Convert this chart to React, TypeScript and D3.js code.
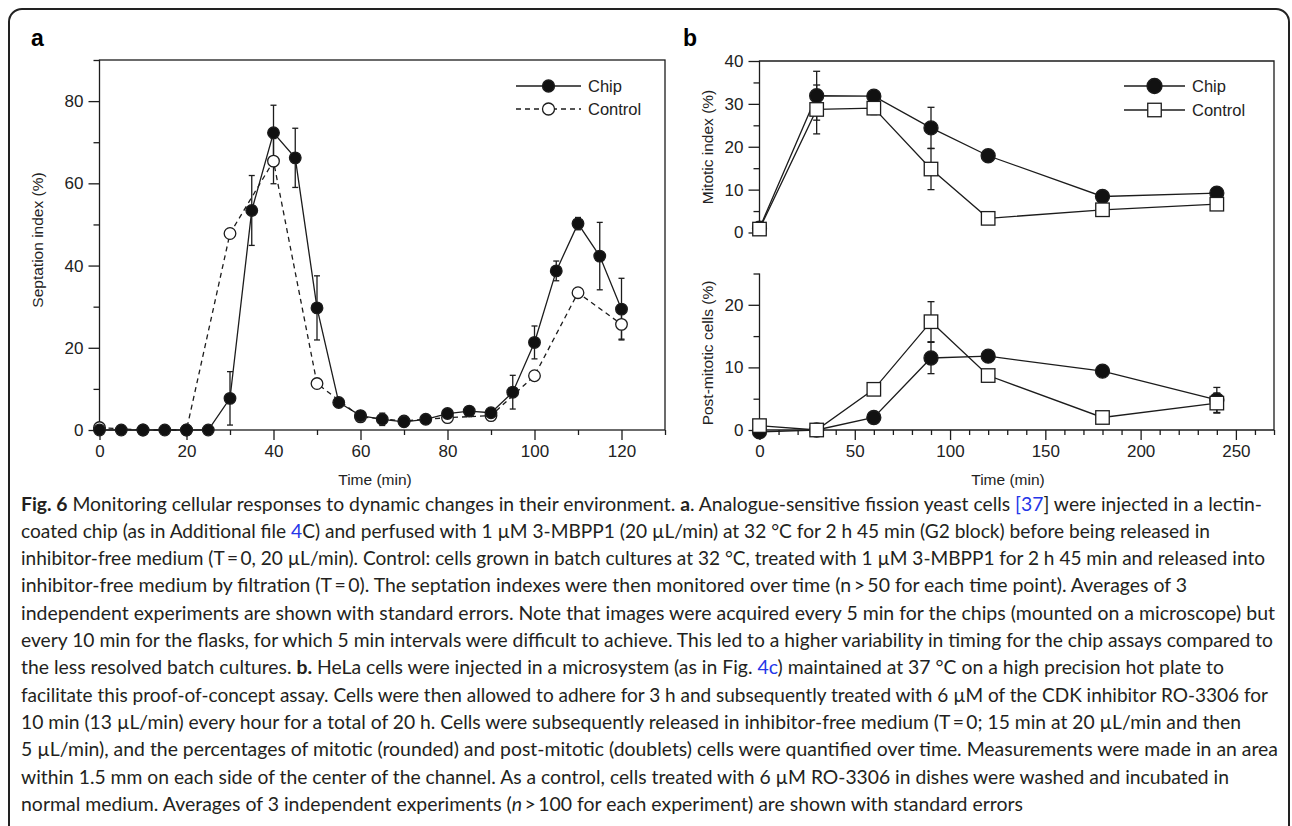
import React, { useEffect, useRef } from 'react';
import * as d3 from 'd3';

// ---- panel a : septation index (%) ----
const chipTimeA = [0, 5, 10, 15, 20, 25, 30, 35, 40, 45, 50, 55, 60, 65, 70, 75, 80, 85, 90, 95, 100, 105, 110, 115, 120];
const chipSeptation = [0, 0, 0, 0, 0, 0, 7.7, 53.4, 72.3, 66.2, 29.7, 6.7, 3.5, 2.6, 2.0, 2.6, 4.0, 4.6, 4.2, 9.2, 21.3, 38.7, 50.2, 42.3, 29.4];
const chipSeptationErr = [0, 0, 0, 0, 0, 0, 6.5, 8.5, 6.7, 7.2, 7.8, 0.8, 1.2, 1.5, 0.6, 0.6, 0.8, 0.6, 0.8, 4.1, 4.0, 2.4, 1.5, 8.2, 7.5];
const controlTimeA = [0, 10, 20, 30, 40, 50, 60, 70, 80, 90, 100, 110, 120];
const controlSeptation = [0.6, 0, 0, 47.8, 65.4, 11.3, 3.2, 2.2, 3.0, 3.5, 13.2, 33.4, 25.7];
const controlSeptationErr = [0, 0, 0, 0, 5.5, 0, 0, 0, 0, 0, 0, 0, 3.6];
const ticksA_x = [0, 20, 40, 60, 80, 100, 120];
const ticksA_y = [0, 20, 40, 60, 80];

// ---- panel b : HeLa mitotic / post-mitotic ----
const timeB = [0, 30, 60, 90, 120, 180, 240];
const chipMitotic = [1.0, 31.9, 31.8, 24.4, 17.9, 8.4, 9.2];
const chipMitoticErr = [0, 5.7, 0.8, 4.8, 0.8, 0.5, 0.6];
const controlMitotic = [0.8, 28.7, 29.0, 14.8, 3.3, 5.3, 6.6];
const controlMitoticErr = [0, 5.7, 1.5, 4.8, 0, 0, 0];
const chipPost = [-0.3, 0, 2.0, 11.5, 11.8, 9.4, 4.8];
const chipPostErr = [0, 0, 0, 2.5, 0, 0, 2.0];
const controlPost = [0.7, 0, 6.5, 17.3, 8.7, 2.0, 4.3];
const controlPostErr = [0, 0, 0, 3.2, 0, 0, 1.6];
const ticksB_x = [0, 50, 100, 150, 200, 250];
const ticksB_mit = [0, 10, 20, 30, 40];
const ticksB_post = [0, 10, 20];

// caption, **bold**, [[link]], _italic_
const captionLines = [
  '**Fig. 6** Monitoring cellular responses to dynamic changes in their environment. **a**. Analogue-sensitive fission yeast cells [[[37]]] were injected in a lectin-',
  'coated chip (as in Additional file [[4]]C) and perfused with 1 µM 3-MBPP1 (20 µL/min) at 32 °C for 2 h 45 min (G2 block) before being released in',
  'inhibitor-free medium (T\u2009=\u20090, 20 µL/min). Control: cells grown in batch cultures at 32 °C, treated with 1 µM 3-MBPP1 for 2 h 45 min and released into',
  'inhibitor-free medium by filtration (T\u2009=\u20090). The septation indexes were then monitored over time (n\u2009>\u200950 for each time point). Averages of 3',
  'independent experiments are shown with standard errors. Note that images were acquired every 5 min for the chips (mounted on a microscope) but',
  'every 10 min for the flasks, for which 5 min intervals were difficult to achieve. This led to a higher variability in timing for the chip assays compared to',
  'the less resolved batch cultures. **b.** HeLa cells were injected in a microsystem (as in Fig. [[4c]]) maintained at 37 °C on a high precision hot plate to',
  'facilitate this proof-of-concept assay. Cells were then allowed to adhere for 3 h and subsequently treated with 6 µM of the CDK inhibitor RO-3306 for',
  '10 min (13 µL/min) every hour for a total of 20 h. Cells were subsequently released in inhibitor-free medium (T\u2009=\u20090; 15 min at 20 µL/min and then',
  '5 µL/min), and the percentages of mitotic (rounded) and post-mitotic (doublets) cells were quantified over time. Measurements were made in an area',
  'within 1.5 mm on each side of the center of the channel. As a control, cells treated with 6 µM RO-3306 in dishes were washed and incubated in',
  'normal medium. Averages of 3 independent experiments (_n_\u2009>\u2009100 for each experiment) are shown with standard errors',
];
const captionEnds = [1262, 1210, 1265, 1187, 1275, 1273, 1224, 1268, 1241, 1278, 1229, 1023];

const ink = '#1c1c1c';
const axisFont = '"Liberation Sans", Arial, Helvetica, sans-serif';

function drawXAxis(g, x, y0, majors, minors) {
  const major = g.append('g').attr('transform', `translate(0,${y0})`)
    .call(d3.axisBottom(x).tickValues(majors).tickSize(10).tickPadding(5).tickSizeOuter(0));
  const minor = g.append('g').attr('transform', `translate(0,${y0})`)
    .call(d3.axisBottom(x).tickValues(minors).tickSize(5).tickFormat(() => '').tickSizeOuter(0));
  [major, minor].forEach(a => {
    a.select('.domain').remove();
    a.selectAll('line').attr('stroke', ink).attr('stroke-width', 1.3);
  });
  major.selectAll('text').attr('fill', '#222').style('font-family', axisFont).style('font-size', '17px');
}

function drawYAxis(g, x0, y, majors, minors) {
  const major = g.append('g').attr('transform', `translate(${x0},0)`)
    .call(d3.axisLeft(y).tickValues(majors).tickSize(11).tickPadding(5).tickSizeOuter(0));
  const minor = g.append('g').attr('transform', `translate(${x0},0)`)
    .call(d3.axisLeft(y).tickValues(minors).tickSize(6).tickFormat(() => '').tickSizeOuter(0));
  [major, minor].forEach(a => {
    a.select('.domain').remove();
    a.selectAll('line').attr('stroke', ink).attr('stroke-width', 1.3);
  });
  major.selectAll('text').attr('fill', '#222').style('font-family', axisFont).style('font-size', '17px');
}

function drawSeries(g, x, y, xs, ys, errs, opts) {
  const pts = xs.map((t, i) => ({ t, v: ys[i], e: errs[i] }));
  const line = d3.line().x(d => x(d.t)).y(d => y(d.v));
  g.append('path').datum(pts).attr('d', line).attr('fill', 'none')
    .attr('stroke', ink).attr('stroke-width', 1.3)
    .attr('stroke-dasharray', opts.dash || null);
  const eb = g.append('g');
  pts.filter(d => d.e > 0).forEach(d => {
    const cx = x(d.t), y1 = y(d.v + d.e), y2 = y(d.v - d.e);
    eb.append('line').attr('x1', cx).attr('x2', cx).attr('y1', y1).attr('y2', y2).attr('stroke', ink).attr('stroke-width', 1.3);
    [y1, y2].forEach(yy => eb.append('line').attr('x1', cx - opts.cap).attr('x2', cx + opts.cap)
      .attr('y1', yy).attr('y2', yy).attr('stroke', ink).attr('stroke-width', 1.3));
  });
  return pts;
}

function drawMarkers(g, x, y, pts, opts) {
  pts.forEach(d => drawMarker(g, x(d.t), y(d.v), opts));
}

function drawMarker(g, cx, cy, opts) {
  if (opts.shape === 'square') {
    g.append('rect').attr('x', cx - opts.size / 2).attr('y', cy - opts.size / 2)
      .attr('width', opts.size).attr('height', opts.size)
      .attr('fill', '#fff').attr('stroke', ink).attr('stroke-width', 1.3);
  } else {
    g.append('circle').attr('cx', cx).attr('cy', cy).attr('r', opts.r)
      .attr('fill', opts.filled ? '#111' : '#fff').attr('stroke', ink).attr('stroke-width', 1.3);
  }
}

function legendRow(g, x1, x2, y0, label, marker, dash) {
  g.append('line').attr('x1', x1).attr('x2', x2).attr('y1', y0).attr('y2', y0)
    .attr('stroke', ink).attr('stroke-width', 1.3).attr('stroke-dasharray', dash || null);
  drawMarker(g, (x1 + x2) / 2, y0, marker);
  g.append('text').attr('x', x2 + 7).attr('y', y0 + 6).text(label)
    .style('font-family', axisFont).style('font-size', '16.5px').attr('fill', '#222');
}

export default function App() {
  const ref = useRef(null);

  useEffect(() => {
    const svg = d3.select(ref.current);
    svg.selectAll('*').remove();

    // outer figure frame
    svg.append('rect').attr('x', 9).attr('y', 9).attr('width', 1280).attr('height', 840).attr('rx', 13)
      .attr('fill', 'none').attr('stroke', '#222').attr('stroke-width', 2);

    // ---------- panel a ----------
    const ga = svg.append('g');
    const xA = d3.scaleLinear().domain([0, 130]).range([99.5, 665]);
    const yA = d3.scaleLinear().domain([0, 90]).range([430, 60]);
    ga.append('text').attr('x', 31).attr('y', 46).text('a')
      .style('font-family', axisFont).style('font-size', '23px').style('font-weight', 'bold');
    ga.append('rect').attr('x', xA(0)).attr('y', yA(90)).attr('width', xA(130) - xA(0)).attr('height', yA(0) - yA(90))
      .attr('fill', 'none').attr('stroke', ink).attr('stroke-width', 1.3);
    drawXAxis(ga, xA, yA(0), ticksA_x, [10, 30, 50, 70, 90, 110, 130]);
    drawYAxis(ga, xA(0), yA, ticksA_y, [10, 30, 50, 70, 90]);
    ga.append('text').attr('transform', `translate(43,${240}) rotate(-90)`).attr('text-anchor', 'middle')
      .text('Septation index (%)').style('font-family', axisFont).style('font-size', '15.5px').attr('fill', '#222');
    ga.append('text').attr('x', 375).attr('y', 485).attr('text-anchor', 'middle')
      .text('Time (min)').style('font-family', axisFont).style('font-size', '15.5px').attr('fill', '#222');

    const ctrlA = drawSeries(ga, xA, yA, controlTimeA, controlSeptation, controlSeptationErr, { dash: '5,4', cap: 3 });
    const chipA = drawSeries(ga, xA, yA, chipTimeA, chipSeptation, chipSeptationErr, { cap: 3 });
    drawMarkers(ga, xA, yA, ctrlA, { r: 5.8, filled: false });
    drawMarkers(ga, xA, yA, chipA, { r: 5.8, filled: true });
    legendRow(ga, 516, 581, 86, 'Chip', { r: 6, filled: true });
    legendRow(ga, 516, 581, 109, 'Control', { r: 6, filled: false }, '5,4');

    // ---------- panel b ----------
    const gb = svg.append('g');
    const xB = d3.scaleLinear().domain([0, 270]).range([759.5, 1274]);
    const yMit = d3.scaleLinear().domain([0, 40]).range([232.5, 61]);
    const yPost = d3.scaleLinear().domain([0, 25]).range([430, 273.5]);
    gb.append('text').attr('x', 683).attr('y', 46).text('b')
      .style('font-family', axisFont).style('font-size', '23px').style('font-weight', 'bold');
    const frame = d3.path();
    frame.moveTo(xB(0), yMit(0)); frame.lineTo(xB(0), yMit(40)); frame.lineTo(xB(270), yMit(40));
    frame.lineTo(xB(270), yPost(0)); frame.lineTo(xB(0), yPost(0)); frame.lineTo(xB(0), yPost(25));
    gb.append('path').attr('d', frame.toString()).attr('fill', 'none').attr('stroke', ink).attr('stroke-width', 1.3);
    drawXAxis(gb, xB, yPost(0), ticksB_x, [10, 20, 30, 40, 60, 70, 80, 90, 110, 120, 130, 140, 160, 170, 180, 190, 210, 220, 230, 240, 260, 270]);
    drawYAxis(gb, xB(0), yMit, ticksB_mit, [5, 15, 25, 35]);
    drawYAxis(gb, xB(0), yPost, ticksB_post, [5, 15, 25]);
    gb.append('text').attr('transform', `translate(713,${147}) rotate(-90)`).attr('text-anchor', 'middle')
      .text('Mitotic index (%)').style('font-family', axisFont).style('font-size', '15.5px').attr('fill', '#222');
    gb.append('text').attr('transform', `translate(713,${353}) rotate(-90)`).attr('text-anchor', 'middle')
      .text('Post-mitotic cells (%)').style('font-family', axisFont).style('font-size', '15.5px').attr('fill', '#222');
    gb.append('text').attr('x', 1008).attr('y', 485).attr('text-anchor', 'middle')
      .text('Time (min)').style('font-family', axisFont).style('font-size', '15.5px').attr('fill', '#222');

    const chipM = drawSeries(gb, xB, yMit, timeB, chipMitotic, chipMitoticErr, { cap: 3.5 });
    const ctrlM = drawSeries(gb, xB, yMit, timeB, controlMitotic, controlMitoticErr, { cap: 3.5 });
    drawMarkers(gb, xB, yMit, chipM, { r: 7, filled: true });
    drawMarkers(gb, xB, yMit, ctrlM, { shape: 'square', size: 13.5 });
    const chipP = drawSeries(gb, xB, yPost, timeB, chipPost, chipPostErr, { cap: 3.5 });
    const ctrlP = drawSeries(gb, xB, yPost, timeB, controlPost, controlPostErr, { cap: 3.5 });
    drawMarkers(gb, xB, yPost, chipP, { r: 7, filled: true });
    drawMarkers(gb, xB, yPost, ctrlP, { shape: 'square', size: 13.5 });
    legendRow(gb, 1124, 1185, 86, 'Chip', { r: 7.5, filled: true });
    legendRow(gb, 1124, 1185, 110, 'Control', { shape: 'square', size: 13.5 });

    // ---------- caption ----------
    const cap = svg.append('g').style('font-family', 'Lato, "Open Sans", sans-serif').style('font-size', '19px').attr('fill', '#231f20');
    captionLines.forEach((ln, i) => {
      const t = cap.append('text').attr('x', 21).attr('y', 510.5 + i * 27.3)
        .attr('textLength', captionEnds[i] - 21).attr('lengthAdjust', 'spacingAndGlyphs');
      ln.split(/(\*\*[^*]+\*\*|\[\[[^\]]*?\]\]|_[^_]+_)/).filter(s => s.length).forEach(s => {
        if (s.startsWith('**')) t.append('tspan').style('font-weight', 'bold').text(s.slice(2, -2));
        else if (s.startsWith('[[')) t.append('tspan').attr('fill', '#2536e8').text(s.slice(2, -2));
        else if (s.startsWith('_') && s.endsWith('_') && s.length > 2) t.append('tspan').style('font-style', 'italic').text(s.slice(1, -1));
        else t.append('tspan').text(s);
      });
    });
  }, []);

  return <svg ref={ref} width={1292} height={826} style={{ position: 'absolute', left: 0, top: 0, background: '#fff' }} />;
}
